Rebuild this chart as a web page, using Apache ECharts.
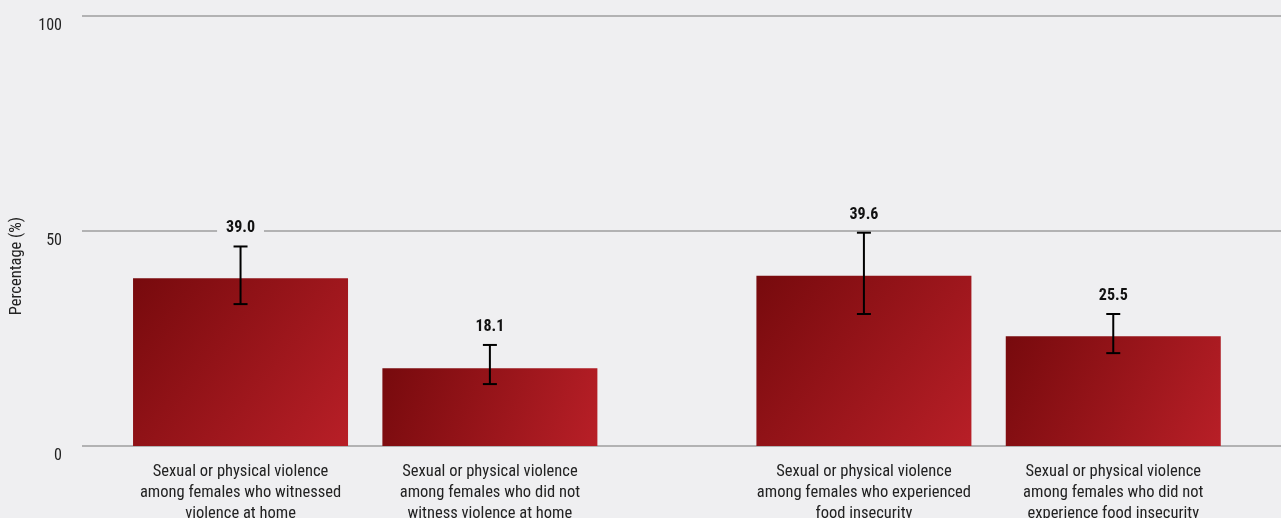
<!DOCTYPE html>
<html>
<head>
<meta charset="utf-8">
<script src="https://cdn.jsdelivr.net/npm/echarts@6/dist/echarts.min.js"></script>
<style>
html,body{margin:0;padding:0;background:#efeff1;}
#c{width:1281px;height:518px;}
</style>
</head>
<body>
<div id="c"></div>
<script>
const categories = [
  'Sexual or physical violence\namong females who witnessed\nviolence at home',
  'Sexual or physical violence\namong females who did not\nwitness violence at home',
  'Sexual or physical violence\namong females who experienced\nfood insecurity',
  'Sexual or physical violence\namong females who did not\nexperience food insecurity'
];
// slot index of each bar on the category axis (gap between the two groups)
const slots = [0, 2, 5, 7];
const slotCount = 8;
const values = [39.0, 18.1, 39.6, 25.5];
const ciLow = [33.0, 14.4, 30.7, 21.6];
const ciHigh = [46.4, 23.5, 49.6, 30.7];
const yTicks = [0, 50, 100];

const FONT = "'Roboto Condensed','Liberation Sans Narrow','Arial Narrow','DejaVu Sans Condensed',Roboto,sans-serif";

const axisCats = [];
for (let i = 0; i < slotCount; i++) axisCats.push('');
slots.forEach((s, k) => axisCats[s] = categories[k]);

const barData = axisCats.map(() => null);
slots.forEach((s, k) => barData[s] = values[k]);

const errData = slots.map((s, k) => [s, ciLow[k], ciHigh[k], values[k]]);

const chart = echarts.init(document.getElementById('c'));
chart.setOption({
  backgroundColor: '#efeff1',
  animation: false,
  textStyle: {fontFamily: FONT},
  grid: [
    {left: 82, right: 0, top: 16, bottom: 72, outerBoundsMode: 'none', containLabel: false},
    {left: 178.2, right: 105.4, top: 16, bottom: 72, outerBoundsMode: 'none', containLabel: false}
  ],
  xAxis: [
    {gridIndex: 0, type: 'value', min: 0, max: 1, show: false},
    {gridIndex: 1, type: 'category', data: axisCats,
     axisLine: {show: false}, axisTick: {show: false},
     axisLabel: {interval: 0, color: '#222', fontSize: 16.5, lineHeight: 21, margin: 15, fontFamily: FONT}}
  ],
  yAxis: [
    {gridIndex: 0, type: 'value', min: yTicks[0], max: yTicks[yTicks.length - 1], interval: 50,
     axisLine: {show: false}, axisTick: {show: false},
     splitLine: {lineStyle: {color: '#9e9e9e', width: 1.5}},
     axisLabel: {color: '#222', fontSize: 16, margin: 20, verticalAlign: 'top', lineHeight: 19, fontFamily: FONT}},
    {gridIndex: 1, type: 'value', min: 0, max: 100, show: false, splitLine: {show: false}}
  ],
  graphic: [{
    type: 'text', left: 8, top: 217, rotation: Math.PI / 2,
    style: {text: 'Percentage (%)', fill: '#222', font: '16.5px ' + FONT}
  }],
  series: [
    {
      type: 'bar', xAxisIndex: 1, yAxisIndex: 1, data: barData, barWidth: 215, clip: false,
      itemStyle: {
        color: new echarts.graphic.LinearGradient(0, 0, 1, 1, [
          {offset: 0, color: '#770a0d'},
          {offset: 1, color: '#b81f27'}
        ])
      }
    },
    {
      type: 'custom', xAxisIndex: 1, yAxisIndex: 1, data: errData, z: 5, clip: false,
      renderItem: function (params, api) {
        const x = api.coord([api.value(0), 0])[0];
        const yl = api.coord([api.value(0), api.value(1)])[1];
        const yh = api.coord([api.value(0), api.value(2)])[1];
        const cap = 7;
        const st = {stroke: '#000', lineWidth: 2};
        return {
          type: 'group',
          children: [
            {type: 'line', shape: {x1: x, y1: yl, x2: x, y2: yh}, style: st},
            {type: 'line', shape: {x1: x - cap, y1: yl, x2: x + cap, y2: yl}, style: st},
            {type: 'line', shape: {x1: x - cap, y1: yh, x2: x + cap, y2: yh}, style: st},
            {type: 'text', x: x, y: yh - 18, z2: 10,
             style: {text: api.value(3).toFixed(1), fill: '#111', font: 'bold 16px ' + FONT,
                     align: 'center', verticalAlign: 'middle',
                     backgroundColor: '#efeff1', padding: [2, 9]}}
          ]
        };
      }
    }
  ]
});
</script>
</body>
</html>
